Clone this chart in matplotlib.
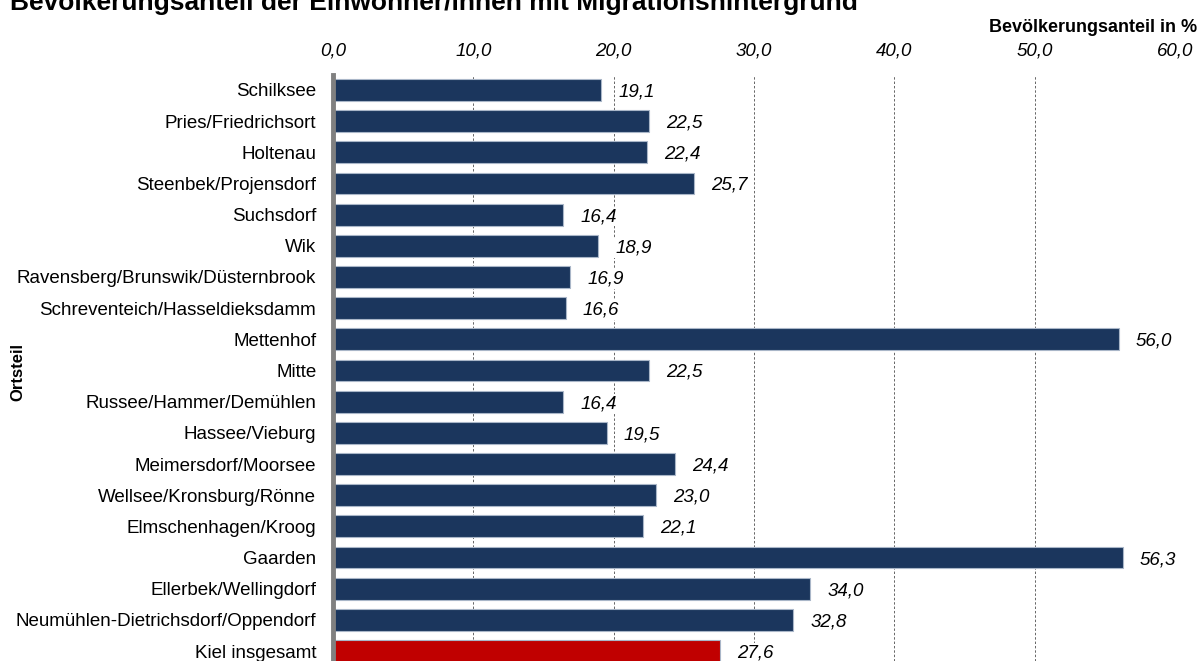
import matplotlib
matplotlib.use("Agg")
import matplotlib.pyplot as plt

# Ortsteile von oben nach unten
ortsteile = [
    "Schilksee", "Pries/Friedrichsort", "Holtenau", "Steenbek/Projensdorf",
    "Suchsdorf", "Wik", "Ravensberg/Brunswik/Düsternbrook",
    "Schreventeich/Hasseldieksdamm", "Mettenhof", "Mitte",
    "Russee/Hammer/Demühlen", "Hassee/Vieburg", "Meimersdorf/Moorsee",
    "Wellsee/Kronsburg/Rönne", "Elmschenhagen/Kroog", "Gaarden",
    "Ellerbek/Wellingdorf", "Neumühlen-Dietrichsdorf/Oppendorf", "Kiel insgesamt",
]
anteil = [19.1, 22.5, 22.4, 25.7, 16.4, 18.9, 16.9, 16.6, 56.0, 22.5,
          16.4, 19.5, 24.4, 23.0, 22.1, 56.3, 34.0, 32.8, 27.6]
xticks = [0, 10, 20, 30, 40, 50, 60]

NAVY = "#1B365D"
RED = "#C00000"
colors = [NAVY] * (len(anteil) - 1) + [RED]


def de(v):
    return ("%.1f" % v).replace(".", ",")


plt.rcParams["font.family"] = ["Liberation Sans", "DejaVu Sans"]

fig = plt.figure(figsize=(12, 6.61), dpi=100)
ax = fig.add_axes([333 / 1200, 0, (1175 - 333) / 1200, 586 / 661])

y = list(range(len(ortsteile)))
ax.barh(y, anteil, height=0.7, color=colors, edgecolor="#A9B6C8", linewidth=0.8, zorder=2)

ax.set_xlim(0, 60)
ax.set_ylim(18.32, -0.48)
ax.set_xticks(xticks)
ax.set_xticklabels([de(v) for v in xticks], fontsize=13.5, style="italic")
ax.xaxis.tick_top()
ax.tick_params(axis="x", length=0, pad=11)
ax.set_yticks(y)
ax.set_yticklabels(ortsteile, fontsize=13.5)
ax.tick_params(axis="y", length=0, pad=12)

ax.grid(axis="x", color="#666666", linestyle=(0, (2.5, 2)), linewidth=0.7, zorder=0)
for s in ["top", "right", "bottom"]:
    ax.spines[s].set_visible(False)
ax.spines["left"].set_color("#808080")
ax.spines["left"].set_linewidth(3.5)
ax.spines["left"].set_zorder(3)

for yi, v in zip(y, anteil):
    ax.annotate(de(v), xy=(v, yi), xytext=(17, -2),
                textcoords="offset pixels", ha="left", va="center",
                fontsize=13.5, style="italic", zorder=4,
                bbox=dict(facecolor="white", edgecolor="none", pad=1))

fig.text(10 / 1200, 1 - 10 / 661, "Bevölkerungsanteil der Einwohner/innen mit Migrationshintergrund",
         fontsize=19, fontweight="bold", ha="left", va="baseline")
fig.text(1197 / 1200, 1 - 32 / 661, "Bevölkerungsanteil in %",
         fontsize=13, fontweight="bold", ha="right", va="baseline")
fig.text(18 / 1200, 1 - 372 / 661, "Ortsteil", fontsize=12, fontweight="bold",
         rotation=90, ha="center", va="center")

fig.savefig("out.png", dpi=100)
